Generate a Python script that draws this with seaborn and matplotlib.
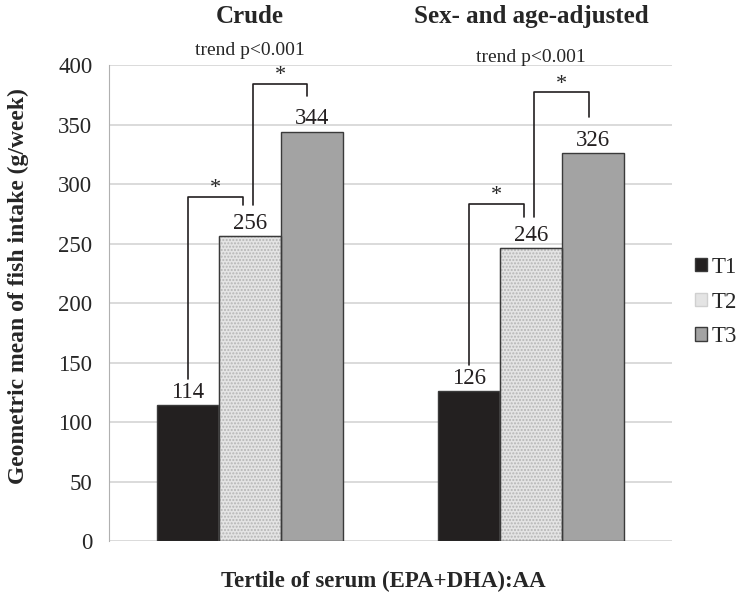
import pandas as pd
import matplotlib
matplotlib.use('Agg')
from matplotlib import pyplot as plt
import seaborn as sns

groups = ['Crude', 'Sex- and age-adjusted']
tertiles = ['T1', 'T2', 'T3']
crude = [114, 256, 344]
adjusted = [126, 246, 326]
trend_text = ['trend p<0.001', 'trend p<0.001']
# bracket tops (T1-T2, T2-T3) for each group
bracket_top_12 = [289, 283]
bracket_top_23 = [384, 377]

df = pd.DataFrame({
    'group': [g for g in groups for _ in tertiles],
    'tertile': tertiles * 2,
    'value': crude + adjusted,
})

sns.set_style('white')
plt.rcParams['font.family'] = ['Liberation Serif', 'DejaVu Serif']

fig = plt.figure(figsize=(7.38, 6.01), dpi=100)
ax = fig.add_axes([0.1477, 0.0998, 0.7629, 0.792])

colors = ['#231f20', '#e4e4e4', '#a3a3a3']
sns.barplot(data=df, x='group', y='value', hue='tertile', palette=colors,
            width=0.66, edgecolor='#3a3a3a', linewidth=1.0, ax=ax,
            legend=True, errorbar=None)

# stipple on T2
for bar in ax.containers[1]:
    bar.set_hatch('.....')
    bar.set_edgecolor('#b5b5b5')
    ax.add_patch(plt.Rectangle(bar.get_xy(), bar.get_width(), bar.get_height(),
                               fill=False, edgecolor='#3a3a3a', lw=1.0, zorder=3))

ax.set_ylim(0, 400)
ax.set_xlim(-0.5, 1.5)
ax.set_yticks(range(0, 401, 50))
ax.yaxis.grid(True, color='#d4d4d4', lw=1.2)
ax.set_axisbelow(True)
for s in ['top', 'right', 'bottom']:
    ax.spines[s].set_visible(False)
ax.spines['left'].set_color('#b0b0b0')
ax.tick_params(axis='y', length=6, color='#d4d4d4', labelsize=16.5, pad=6)
ax.tick_params(axis='x', length=0, labelbottom=False)
ax.set_xlabel('')
ax.set_ylabel('')

# value labels
for cont in ax.containers:
    for bar in cont:
        h = bar.get_height()
        ax.text(bar.get_x() + bar.get_width() / 2, h + 2, f'{h:.0f}',
                ha='center', va='bottom', fontsize=16.5, color='#231f20')

# titles and trend text
for i, g in enumerate(groups):
    ax.text(i, 441, g, ha='center', va='center', fontsize=18, fontweight='bold',
            clip_on=False)
ax.text(0, 412, trend_text[0], ha='center', va='center', fontsize=14, clip_on=False)
ax.text(1, 406, trend_text[1], ha='center', va='center', fontsize=14, clip_on=False)

# significance brackets
def bracket(x0, x1, y0, y1, top):
    ax.plot([x0, x0, x1, x1], [y0, top, top, y1], color='#231f20', lw=1.2,
            clip_on=False, zorder=4)
    ax.text((x0 + x1) / 2, top - 1, '*', ha='center', va='bottom',
            fontsize=16, clip_on=False)

for i, vals in enumerate([crude, adjusted]):
    bars = [ax.containers[k][i] for k in range(3)]
    cx = [b.get_x() + b.get_width() / 2 for b in bars]
    bracket(cx[0], cx[1] - 0.025, vals[0] + 22, vals[1] + 26, bracket_top_12[i])
    bracket(cx[1] + 0.01, cx[2] - 0.015, vals[1] + 26, vals[2] + 30, bracket_top_23[i])

leg = ax.legend(loc='center left', bbox_to_anchor=(0.9295, 0.4975),
                bbox_transform=fig.transFigure, frameon=False, fontsize=16.5,
                handlelength=0.52, handleheight=0.52, handletextpad=0.2,
                labelspacing=0.6, borderaxespad=0)
for h in leg.legend_handles:
    h.set_edgecolor('#3a3a3a')
leg.legend_handles[1].set_edgecolor('#d0d0d0')

fig.text(0.025, 0.524, 'Geometric mean of fish intake (g/week)', rotation=90,
         ha='center', va='center', fontsize=17, fontweight='bold')
fig.text(0.52, 0.032, 'Tertile of serum (EPA+DHA):AA', ha='center', va='center',
         fontsize=16.5, fontweight='bold')

fig.savefig('out.png', dpi=100)
